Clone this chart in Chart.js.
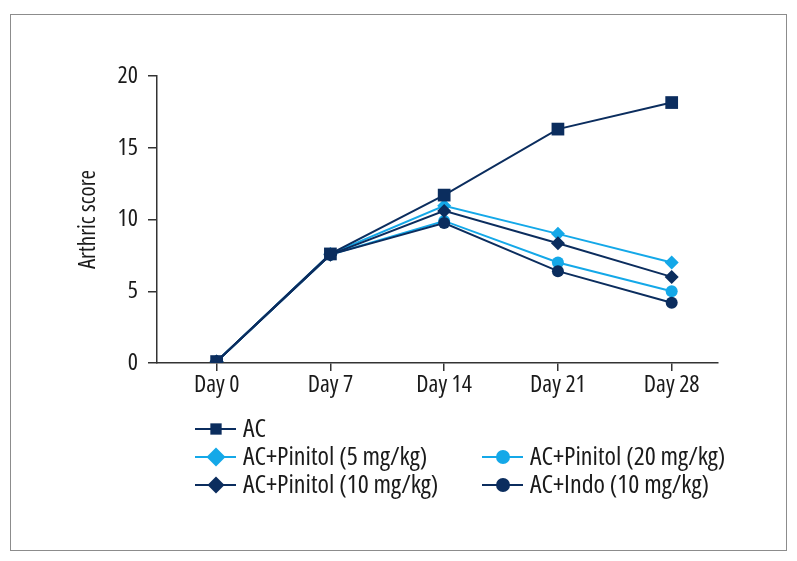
<!DOCTYPE html>
<html>
<head>
<meta charset="utf-8">
<script src="https://cdn.jsdelivr.net/npm/chart.js@4/dist/chart.umd.min.js"></script>
<style>
  html, body { margin: 0; padding: 0; background: #fff; }
  #wrap { position: relative; width: 797px; height: 561px; }
  #frame { position: absolute; left: 10px; top: 14px; width: 777px; height: 537px; border: 1.5px solid #8c8c8c; box-sizing: border-box; pointer-events: none; }
</style>
</head>
<body>
<div id="wrap">
  <canvas id="lineChart" width="797" height="561"></canvas>
  <div id="frame"></div>
</div>
<script>
var days = [0, 7, 14, 21, 28];
var dayLabels = ['Day 0', 'Day 7', 'Day 14', 'Day 21', 'Day 28'];
var yTicks = [0, 5, 10, 15, 20];

var acScore = [0.1, 7.6, 11.7, 16.3, 18.15];
var pin5Score = [0.1, 7.6, 10.95, 9.0, 7.0];
var pin10Score = [0.1, 7.55, 10.6, 8.35, 6.0];
var pin20Score = [0.1, 7.55, 9.9, 7.0, 5.0];
var indoScore = [0.1, 7.55, 9.75, 6.4, 4.2];

var navy = '#0b2d5e';
var sky = '#14a8e8';
var font = "'Open Sans', sans-serif";

function pts(vals) {
    return vals.map(function (v, i) { return { x: days[i], y: v }; });
}

// legend slots: [x of line start, y, marker radius]
var legendPos = [[195, 429, 8], [195, 457, 9.5], [195, 485, 8.5], [482, 457, 7], [482, 485, 7]];

var legendPlugin = {
    id: 'sideLegend',
    beforeInit: function (chart) {
        chart.ctx.fontStretch = 'condensed';
    },
    afterDraw: function (chart) {
        var ctx = chart.ctx;
        chart.data.datasets.forEach(function (ds, i) {
            var p = legendPos[i];
            ctx.save();
            ctx.strokeStyle = ds.borderColor;
            ctx.lineWidth = 2;
            ctx.beginPath();
            ctx.moveTo(p[0], p[1]);
            ctx.lineTo(p[0] + 41, p[1]);
            ctx.stroke();
            ctx.fillStyle = ds.pointBackgroundColor;
            ctx.strokeStyle = ds.pointBackgroundColor;
            Chart.helpers.drawPoint(ctx, {
                pointStyle: ds.pointStyle,
                radius: p[2],
                rotation: 0,
                borderWidth: 0
            }, p[0] + 21, p[1]);
            ctx.fillStyle = '#1a1a1a';
            ctx.font = 'condensed 26px ' + font;
            ctx.textBaseline = 'middle';
            ctx.fillText(ds.label, p[0] + 48, p[1] + 1);
            ctx.restore();
        });
    }
};

var lineData = {
    datasets: [{
        label: 'AC',
        data: pts(acScore),
        borderColor: navy,
        pointBackgroundColor: navy,
        pointStyle: 'rect',
        pointRadius: 9,
        order: 0
    }, {
        label: 'AC+Pinitol (5 mg/kg)',
        data: pts(pin5Score),
        borderColor: sky,
        pointBackgroundColor: sky,
        pointStyle: 'rectRot',
        pointRadius: 7,
        order: 3
    }, {
        label: 'AC+Pinitol (10 mg/kg)',
        data: pts(pin10Score),
        borderColor: navy,
        pointBackgroundColor: navy,
        pointStyle: 'rectRot',
        pointRadius: 7,
        order: 2
    }, {
        label: 'AC+Pinitol (20 mg/kg)',
        data: pts(pin20Score),
        borderColor: sky,
        pointBackgroundColor: sky,
        pointStyle: 'circle',
        pointRadius: 6,
        order: 4
    }, {
        label: 'AC+Indo (10 mg/kg)',
        data: pts(indoScore),
        borderColor: navy,
        pointBackgroundColor: navy,
        pointStyle: 'circle',
        pointRadius: 6,
        order: 1
    }]
};

lineData.datasets.forEach(function (ds) {
    ds.borderWidth = 2;
    ds.pointBorderWidth = 0;
    ds.pointBorderColor = ds.pointBackgroundColor;
    ds.tension = 0;
});

var tickFont = { family: font, size: 24, weight: 'condensed' };

var lineConfig = {
    type: 'line',
    data: lineData,
    plugins: [legendPlugin],
    options: {
        responsive: false,
        animation: false,
        events: [],
        layout: { padding: { left: 70, right: 79, top: 76, bottom: 158 } },
        plugins: { legend: { display: false }, tooltip: { enabled: false } },
        scales: {
            x: {
                type: 'linear',
                min: -3.67,
                max: 30.85,
                afterBuildTicks: function (axis) {
                    axis.ticks = days.map(function (d) { return { value: d }; });
                },
                afterFit: function (axis) { axis.height = 40; },
                ticks: {
                    autoSkip: false,
                    maxRotation: 0,
                    padding: 0,
                    color: '#1a1a1a',
                    font: tickFont,
                    callback: function (v) { return dayLabels[days.indexOf(v)]; }
                },
                grid: { drawOnChartArea: false, drawTicks: true, tickLength: 8, color: '#333', lineWidth: 1.5 },
                border: { display: true, color: '#333', width: 1.5 }
            },
            y: {
                min: 0,
                max: 20,
                afterBuildTicks: function (axis) {
                    axis.ticks = yTicks.map(function (v) { return { value: v }; });
                },
                afterFit: function (axis) { axis.width = 87; },
                title: {
                    display: true,
                    text: 'Arthric score',
                    color: '#1a1a1a',
                    font: { family: font, size: 23, weight: 'condensed' },
                    padding: { top: 5, bottom: 0 }
                },
                ticks: {
                    padding: 10,
                    color: '#1a1a1a',
                    font: { family: font, size: 24, weight: 'condensed' }
                },
                grid: { drawOnChartArea: false, drawTicks: true, tickLength: 9, color: '#333', lineWidth: 1.5 },
                border: { display: true, color: '#333', width: 1.5 }
            }
        }
    }
};

var lineChart = new Chart(
    document.getElementById('lineChart'),
    lineConfig
);
</script>
</body>
</html>
